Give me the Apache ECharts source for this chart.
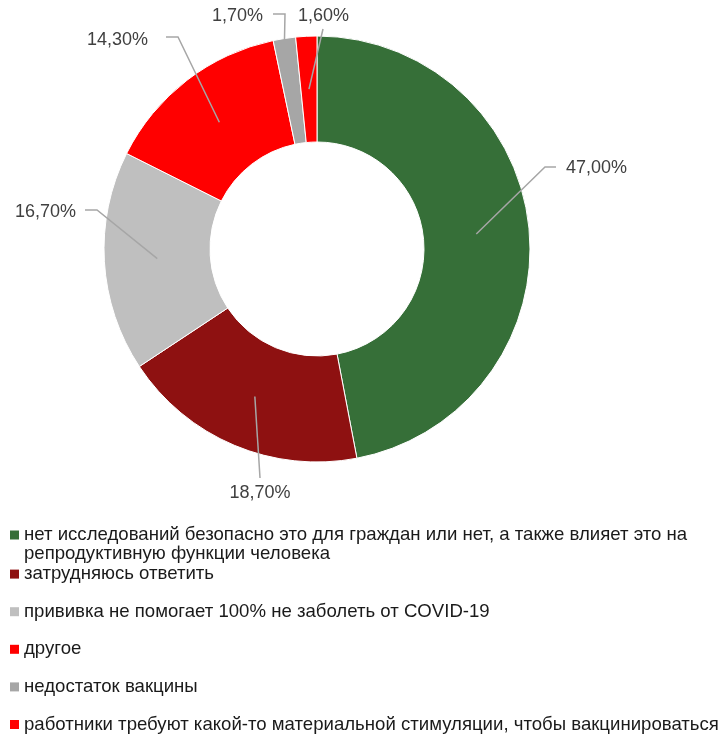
<!DOCTYPE html>
<html>
<head>
<meta charset="utf-8">
<script src="https://cdn.jsdelivr.net/npm/echarts@6/dist/echarts.min.js"></script>
<style>
html, body { margin: 0; padding: 0; background: #fff; }
#chart { width: 725px; height: 735px; }
</style>
</head>
<body>
<div id="chart"></div>
<script>
// reasons (legend text) and shares in percent
const categories = [
  'нет исследований безопасно это для граждан или нет, а также влияет это на\nрепродуктивную функции человека',
  'затрудняюсь ответить',
  'прививка не помогает 100% не заболеть от COVID-19',
  'другое',
  'недостаток вакцины',
  'работники требуют какой-то материальной стимуляции, чтобы вакцинироваться'
];
const shares = [47.0, 18.7, 16.7, 14.3, 1.7, 1.6];
const colors = ['#366f38', '#8e1111', '#bfbfbf', '#ff0000', '#a6a6a6', '#ff0000'];

const cx = 317, cy = 249, r0 = 107, r1 = 213;
const font = 'Liberation Sans, Arial, sans-serif';
// leader line: start radius, bend point, end point, label anchor, align
const leaders = [
  { rs: 160, bend: [545, 167], end: [556, 167], lab: [566, 168], align: 'left' },
  { rs: 160, bend: [260, 478], end: [260, 478], lab: [260, 493], align: 'center' },
  { rs: 160, bend: [97, 210], end: [85, 210], lab: [76, 212], align: 'right' },
  { rs: 160, bend: [178, 37], end: [166, 37], lab: [148, 40], align: 'right' },
  { rs: 212, bend: [285, 14], end: [273, 14], lab: [263, 16], align: 'right' },
  { rs: 160, bend: [323, 29], end: [323, 29], lab: [298, 16], align: 'left' }
];

const total = shares.reduce((a, b) => a + b, 0);
const midAngle = (i) => {
  let acc = 0;
  for (let k = 0; k < i; k++) acc += shares[k];
  return (acc + shares[i] / 2) / total * Math.PI * 2;
};

const chart = echarts.init(document.getElementById('chart'));

const LH = 19;
const legends = categories.map((name, i) => {
  const c = 535 + i * 37.6 + (i > 0 ? 1.5 : 0);
  return {
    orient: 'vertical',
    left: 10,
    top: i === 0 ? c - 1.5 * LH : c - LH / 2,
    padding: 0,
    itemWidth: 9,
    itemHeight: 9,
    itemGap: 0,
    icon: 'rect',
    itemStyle: { borderWidth: 0 },
    selectedMode: false,
    data: [name],
    // a leading blank line keeps the marker level with the first text line
    formatter: (n) => (n.indexOf('\n') >= 0 ? '\n' + n : n),
    textStyle: {
      fontFamily: font,
      fontSize: 18.6,
      color: '#1a1a1a',
      lineHeight: LH
    }
  };
});

const pieData = categories.map((name, i) => ({ name: name, value: shares[i] }));

chart.setOption({
  animation: false,
  color: colors,
  legend: legends,
  series: [{
    type: 'pie',
    center: [cx, cy],
    radius: [r0, r1],
    startAngle: 90,
    clockwise: true,
    itemStyle: { borderColor: '#fff', borderWidth: 1 },
    label: { show: false },
    labelLine: { show: false },
    data: pieData
  }, {
    // transparent copy on top, carries labels and leader lines
    type: 'pie',
    z: 5,
    center: [cx, cy],
    radius: [r0, r1],
    startAngle: 90,
    clockwise: true,
    avoidLabelOverlap: false,
    silent: true,
    itemStyle: { color: 'rgba(0,0,0,0)', borderWidth: 0 },
    label: {
      show: true,
      position: 'outside',
      fontFamily: font,
      fontSize: 18,
      color: '#404040',
      formatter: (p) => p.value.toFixed(2).replace('.', ',') + '%'
    },
    labelLine: {
      show: true,
      lineStyle: { color: '#a6a6a6', width: 1.5 }
    },
    labelLayout: (params) => {
      const L = leaders[params.dataIndex];
      const a = midAngle(params.dataIndex);
      const start = [cx + L.rs * Math.sin(a), cy - L.rs * Math.cos(a)];
      return {
        x: L.lab[0],
        y: L.lab[1],
        align: L.align,
        verticalAlign: 'middle',
        labelLinePoints: [start, L.bend, L.end]
      };
    },
    data: pieData
  }]
});
</script>
</body>
</html>
